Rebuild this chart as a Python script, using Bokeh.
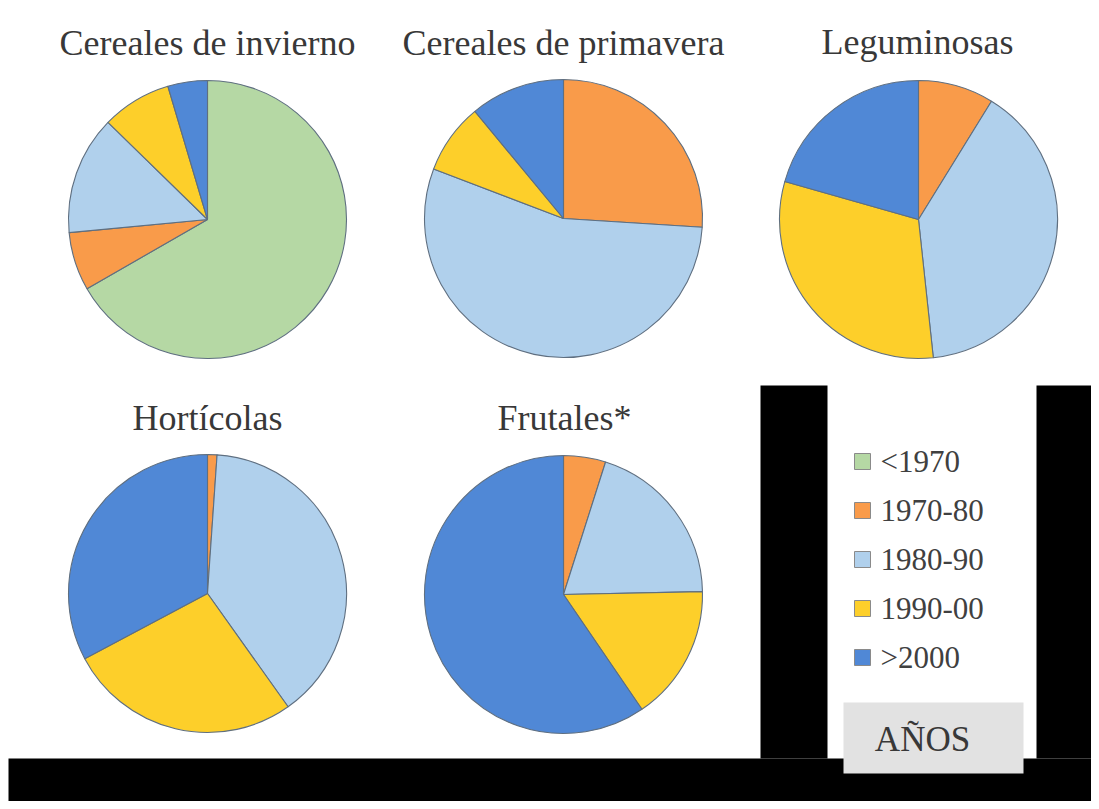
import numpy as np
from bokeh.plotting import figure
from bokeh.models import ColumnDataSource, Range1d
from bokeh.core.properties import value
from bokeh.embed import file_html
from bokeh.resources import INLINE

# ---------------- data ----------------
categories = ["<1970", "1970-80", "1980-90", "1990-00", ">2000"]
colors = ["#b5d8a4", "#f99b4a", "#b0d0ec", "#fdcf2a", "#5088d6"]

titles = ["Cereales de invierno", "Cereales de primavera", "Leguminosas",
          "Hortícolas", "Frutales*"]

cereales_invierno = [66.7, 6.8, 13.8, 8.1, 4.6]
cereales_primavera = [0.0, 26.0, 54.8, 8.2, 11.0]
leguminosas = [0.0, 8.8, 39.5, 31.1, 20.6]
horticolas = [0.0, 1.1, 39.1, 27.1, 32.8]
frutales = [0.0, 4.9, 19.8, 15.8, 59.6]

series = [cereales_invierno, cereales_primavera, leguminosas, horticolas, frutales]
legend_title = "AÑOS"

# ---------------- layout (screen px, top-left origin) ----------------
W, H = 1091, 801
pie_centers = [(207, 219), (563, 218), (918, 219), (207, 593), (563, 594)]
pie_radius = 139
title_pos = [(207, 42), (563, 42), (917, 41), (207, 417), (564, 417)]
TITLE_FONT = "Liberation Serif"


def sy(py):
    return H - py


p = figure(width=W, height=H, x_range=Range1d(0, W), y_range=Range1d(0, H),
           output_backend="svg", toolbar_location=None, min_border=0)
p.axis.visible = False
p.grid.visible = False
p.outline_line_color = None
p.background_fill_color = "white"
p.border_fill_color = "white"

# black decorations
p.quad(left=[760, 1036, 8], right=[827, W, W],
       top=[sy(385), sy(385), sy(758)], bottom=[sy(758), sy(758), 0],
       fill_color="black", line_color=None)

# pies
for (cx, cy), vals, title, (tx, ty) in zip(pie_centers, series, titles, title_pos):
    vals = np.array(vals, dtype=float)
    frac = vals / vals.sum()
    cum = np.concatenate([[0.0], np.cumsum(frac)])
    start = np.pi / 2 - 2 * np.pi * cum[:-1]
    end = np.pi / 2 - 2 * np.pi * cum[1:]
    keep = vals > 0
    src = ColumnDataSource(dict(
        x=[cx] * int(keep.sum()),
        y=[sy(cy)] * int(keep.sum()),
        start=list(start[keep]),
        end=list(end[keep]),
        color=[c for c, k in zip(colors, keep) if k],
    ))
    p.wedge(x="x", y="y", radius=pie_radius, start_angle="start", end_angle="end",
            direction="clock", fill_color="color", line_color="#5f6f80",
            line_width=1.1, source=src)
    p.text(x=[tx], y=[sy(ty)], text=[title], text_font=value(TITLE_FONT),
           text_font_size=value("36px"), text_color="#383838",
           text_align="center", text_baseline="alphabetic")

# legend
leg_x = 862
leg_y = [461, 510, 559, 608, 657]
p.rect(x=[leg_x] * 5, y=[sy(v) for v in leg_y], width=16, height=16,
       fill_color=colors, line_color="#8a8a8a", line_width=1)
p.text(x=[880] * 5, y=[sy(v) for v in leg_y], text=categories,
       text_font=value(TITLE_FONT), text_font_size=value("31px"),
       text_color="#404040", text_align="left", text_baseline="middle")

# legend title box
p.quad(left=[843], right=[1023], top=[sy(702)], bottom=[sy(773)],
       fill_color="#e2e2e2", line_color=None)
p.text(x=[922], y=[sy(739)], text=[legend_title], text_font=value(TITLE_FONT),
       text_font_size=value("35px"), text_color="#383838",
       text_align="center", text_baseline="middle")

open("out.html", "w").write(file_html(p, INLINE))
